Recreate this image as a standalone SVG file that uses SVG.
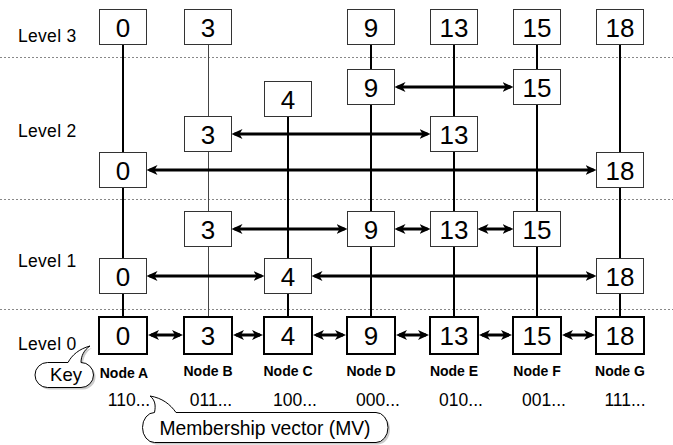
<svg xmlns="http://www.w3.org/2000/svg" width="673" height="445" viewBox="0 0 673 445">
<style>
text{font-family:"Liberation Sans",Arial,sans-serif;fill:#000}
.lvl{font-size:17.5px;letter-spacing:0.3px}
.num{font-size:26px;text-anchor:middle}
.nl{font-size:14px;font-weight:bold;text-anchor:middle}
.mv{font-size:17.5px;text-anchor:middle}
.bx{fill:#fff;stroke:#333;stroke-width:1}
.b0{fill:#fff;stroke:#000;stroke-width:2}
.dash{stroke:#888;stroke-width:1;stroke-dasharray:2 2;fill:none}
.v{stroke:#000;stroke-width:2;fill:none}
.vt{stroke:#444;stroke-width:1;fill:none}
.ar{stroke:#000;stroke-width:3;fill:none;marker-start:url(#ah);marker-end:url(#ah)}
.co{fill:#fff;stroke:#000;stroke-width:1}
.sh{fill:#aaa;stroke:none;opacity:0.6}
</style>
<defs>
<marker id="ah" viewBox="0 0 11 10" refX="8" refY="5" markerWidth="11" markerHeight="10" markerUnits="userSpaceOnUse" orient="auto-start-reverse">
<path d="M0,0 L11,5 L0,10 L3,5 Z" fill="#000"/>
</marker>
</defs>
<rect width="673" height="445" fill="#fff"/>
<g id="levels">
<line class="dash" x1="0" y1="57.5" x2="673" y2="57.5"/>
<line class="dash" x1="0" y1="199.5" x2="673" y2="199.5"/>
<line class="dash" x1="0" y1="309.5" x2="673" y2="309.5"/>
<text class="lvl" x="18" y="42">Level 3</text>
<text class="lvl" x="18" y="137">Level 2</text>
<text class="lvl" x="18" y="267">Level 1</text>
<text class="lvl" x="18" y="350">Level 0</text>
</g>
<g id="connectors">
<line class="v" x1="123" y1="45" x2="123" y2="317"/>
<line class="vt" x1="208.5" y1="45" x2="208.5" y2="317"/>
<line class="v" x1="288" y1="116" x2="288" y2="317"/>
<line class="v" x1="371" y1="45" x2="371" y2="317"/>
<line class="v" x1="454" y1="45" x2="454" y2="317"/>
<line class="v" x1="537" y1="45" x2="537" y2="317"/>
<line class="v" x1="620" y1="45" x2="620" y2="317"/>
<line class="ar" x1="397.5" y1="87" x2="510.5" y2="87"/>
<line class="ar" x1="234.5" y1="134" x2="427.5" y2="134"/>
<line class="ar" x1="149.5" y1="170" x2="593.5" y2="170"/>
<line class="ar" x1="234.5" y1="229" x2="344.5" y2="229"/>
<line class="ar" x1="397.5" y1="229" x2="427.5" y2="229"/>
<line class="ar" x1="480.5" y1="229" x2="510.5" y2="229"/>
<line class="ar" x1="149.5" y1="276" x2="261.5" y2="276"/>
<line class="ar" x1="314.5" y1="276" x2="593.5" y2="276"/>
<line class="ar" x1="151" y1="335" x2="180" y2="335"/>
<line class="ar" x1="236" y1="335" x2="260" y2="335"/>
<line class="ar" x1="316" y1="335" x2="343" y2="335"/>
<line class="ar" x1="399" y1="335" x2="426" y2="335"/>
<line class="ar" x1="482" y1="335" x2="509" y2="335"/>
<line class="ar" x1="565" y1="335" x2="592" y2="335"/>
</g>
<g id="A-L3"><rect class="bx" x="99.5" y="9.5" width="47" height="35"/><text class="num" x="123" y="36.5">0</text></g>
<g id="B-L3"><rect class="bx" x="184.5" y="9.5" width="47" height="35"/><text class="num" x="208" y="36.5">3</text></g>
<g id="D-L3"><rect class="bx" x="347.5" y="9.5" width="47" height="35"/><text class="num" x="371" y="36.5">9</text></g>
<g id="E-L3"><rect class="bx" x="430.5" y="9.5" width="47" height="35"/><text class="num" x="454" y="36.5">13</text></g>
<g id="F-L3"><rect class="bx" x="513.5" y="9.5" width="47" height="35"/><text class="num" x="537" y="36.5">15</text></g>
<g id="G-L3"><rect class="bx" x="596.5" y="9.5" width="47" height="35"/><text class="num" x="620" y="36.5">18</text></g>
<g id="D-L2"><rect class="bx" x="347.5" y="69.5" width="47" height="35"/><text class="num" x="371" y="96.5">9</text></g>
<g id="F-L2"><rect class="bx" x="513.5" y="69.5" width="47" height="35"/><text class="num" x="537" y="96.5">15</text></g>
<g id="C-L2"><rect class="bx" x="264.5" y="81.5" width="47" height="35"/><text class="num" x="288" y="108.5">4</text></g>
<g id="B-L2"><rect class="bx" x="184.5" y="116.5" width="47" height="35"/><text class="num" x="208" y="143.5">3</text></g>
<g id="E-L2"><rect class="bx" x="430.5" y="116.5" width="47" height="35"/><text class="num" x="454" y="143.5">13</text></g>
<g id="A-L2"><rect class="bx" x="99.5" y="152.5" width="47" height="35"/><text class="num" x="123" y="179.5">0</text></g>
<g id="G-L2"><rect class="bx" x="596.5" y="152.5" width="47" height="35"/><text class="num" x="620" y="179.5">18</text></g>
<g id="B-L1"><rect class="bx" x="184.5" y="211.5" width="47" height="35"/><text class="num" x="208" y="238.5">3</text></g>
<g id="D-L1"><rect class="bx" x="347.5" y="211.5" width="47" height="35"/><text class="num" x="371" y="238.5">9</text></g>
<g id="E-L1"><rect class="bx" x="430.5" y="211.5" width="47" height="35"/><text class="num" x="454" y="238.5">13</text></g>
<g id="F-L1"><rect class="bx" x="513.5" y="211.5" width="47" height="35"/><text class="num" x="537" y="238.5">15</text></g>
<g id="A-L1"><rect class="bx" x="99.5" y="258.5" width="47" height="35"/><text class="num" x="123" y="285.5">0</text></g>
<g id="C-L1"><rect class="bx" x="264.5" y="258.5" width="47" height="35"/><text class="num" x="288" y="285.5">4</text></g>
<g id="G-L1"><rect class="bx" x="596.5" y="258.5" width="47" height="35"/><text class="num" x="620" y="285.5">18</text></g>
<g id="A-L0"><rect class="b0" x="99" y="317" width="48" height="37"/><text class="num" x="123" y="344.5">0</text><text class="nl" x="124" y="378">Node A</text><text class="mv" x="129" y="406">110...</text></g>
<g id="B-L0"><rect class="b0" x="184" y="317" width="48" height="37"/><text class="num" x="208" y="344.5">3</text><text class="nl" x="208" y="376">Node B</text><text class="mv" x="211" y="406">011...</text></g>
<g id="C-L0"><rect class="b0" x="264" y="317" width="48" height="37"/><text class="num" x="288" y="344.5">4</text><text class="nl" x="288" y="376">Node C</text><text class="mv" x="295" y="406">100...</text></g>
<g id="D-L0"><rect class="b0" x="347" y="317" width="48" height="37"/><text class="num" x="371" y="344.5">9</text><text class="nl" x="371" y="376">Node D</text><text class="mv" x="378" y="406">000...</text></g>
<g id="E-L0"><rect class="b0" x="430" y="317" width="48" height="37"/><text class="num" x="454" y="344.5">13</text><text class="nl" x="454" y="376">Node E</text><text class="mv" x="461" y="406">010...</text></g>
<g id="F-L0"><rect class="b0" x="513" y="317" width="48" height="37"/><text class="num" x="537" y="344.5">15</text><text class="nl" x="537" y="376">Node F</text><text class="mv" x="544" y="406">001...</text></g>
<g id="G-L0"><rect class="b0" x="596" y="317" width="48" height="37"/><text class="num" x="620" y="344.5">18</text><text class="nl" x="620" y="376">Node G</text><text class="mv" x="625" y="406">111...</text></g>
<g id="key-callout">
<path class="sh" transform="translate(2,2)" d="M47.5,362.5 H68 C72,355 79,349 90,346 C84,350 81,356 81,362.5 A12.5 12.5 0 0 1 81,387.5 H47.5 A12.5 12.5 0 0 1 47.5,362.5 Z"/>
<path class="co" d="M47.5,362.5 H68 C72,355 79,349 90,346 C84,350 81,356 81,362.5 A12.5 12.5 0 0 1 81,387.5 H47.5 A12.5 12.5 0 0 1 47.5,362.5 Z"/>
<text x="66" y="381" font-size="18.5" text-anchor="middle">Key</text>
</g>
<g id="mv-callout">
<path class="sh" transform="translate(2,2)" d="M154.5,412.5 C156,405 155,400 150,396 C162,398 170,404 176,412.5 H376 A12 15 0 0 1 376,442.5 H154.5 A12 15 0 0 1 154.5,412.5 Z"/>
<path class="co" d="M154.5,412.5 C156,405 155,400 150,396 C162,398 170,404 176,412.5 H376 A12 15 0 0 1 376,442.5 H154.5 A12 15 0 0 1 154.5,412.5 Z"/>
<text x="265" y="435" font-size="19.3" text-anchor="middle">Membership vector (MV)</text>
</g>
</svg>
